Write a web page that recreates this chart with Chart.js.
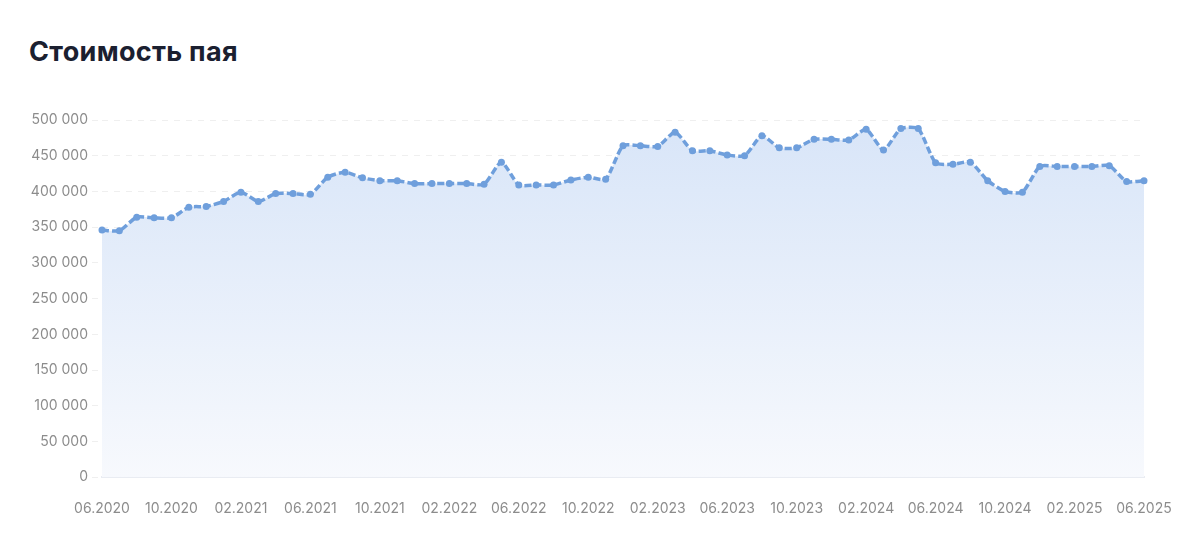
<!DOCTYPE html>
<html lang="ru">
<head>
<meta charset="utf-8">
<title>Стоимость пая</title>
<script src="https://cdn.jsdelivr.net/npm/chart.js@4.4.1/dist/chart.umd.min.js"></script>
<style>
    html, body {
        margin: 0;
        padding: 0;
        background: #ffffff;
        width: 1200px;
        height: 553px;
        overflow: hidden;
        font-family: Inter, "Open Sans", sans-serif;
    }
    h2 {
        position: absolute;
        left: 29px;
        top: 35px;
        margin: 0;
        font-size: 27px;
        font-weight: 700;
        color: #1b2030;
        letter-spacing: 0.3px;
    }
    .chart-box {
        position: absolute;
        left: 0;
        top: 96px;
        width: 1200px;
        height: 436px;
    }
</style>
</head>
<body>
<h2>Стоимость пая</h2>
<div class="chart-box"><canvas id="navChart"></canvas></div>

<script>
// Months, 06.2020 .. 06.2025
var months = [
    '06.2020', '07.2020', '08.2020', '09.2020', '10.2020', '11.2020', '12.2020',
    '01.2021', '02.2021', '03.2021', '04.2021', '05.2021', '06.2021', '07.2021', '08.2021', '09.2021', '10.2021', '11.2021', '12.2021',
    '01.2022', '02.2022', '03.2022', '04.2022', '05.2022', '06.2022', '07.2022', '08.2022', '09.2022', '10.2022', '11.2022', '12.2022',
    '01.2023', '02.2023', '03.2023', '04.2023', '05.2023', '06.2023', '07.2023', '08.2023', '09.2023', '10.2023', '11.2023', '12.2023',
    '01.2024', '02.2024', '03.2024', '04.2024', '05.2024', '06.2024', '07.2024', '08.2024', '09.2024', '10.2024', '11.2024', '12.2024',
    '01.2025', '02.2025', '03.2025', '04.2025', '05.2025', '06.2025'
];

// Unit value
var unitValue = [
    346000, 345000, 364000, 363000, 363000, 378000, 379000,
    386000, 399000, 386000, 397000, 397000, 396000, 420000, 427000, 419000, 415000, 415000, 411000,
    411000, 411000, 411000, 410000, 441000, 409000, 409000, 409000, 416000, 420000, 417000, 464000,
    464000, 463000, 483000, 457000, 457000, 451000, 450000, 478000, 461000, 461000, 473000, 473000,
    472000, 487000, 458000, 488000, 488000, 440000, 438000, 441000, 415000, 400000, 399000, 435000,
    435000, 435000, 435000, 436000, 414000, 415000
];

var yTicks = [0, 50000, 100000, 150000, 200000, 250000, 300000, 350000, 400000, 450000, 500000];
var labelEvery = 4;

function formatNumber(v) {
    return String(v).replace(/\B(?=(\d{3})+(?!\d))/g, ' ');
}

function areaGradient(context) {
    var chart = context.chart;
    var area = chart.chartArea;
    if (!area) {
        return 'rgba(111, 159, 220, 0.2)';
    }
    var g = chart.ctx.createLinearGradient(0, area.top, 0, area.bottom);
    g.addColorStop(0, '#d8e5f8');
    g.addColorStop(1, '#f7f9fd');
    return g;
}

var ctx = document.getElementById('navChart').getContext('2d');

new Chart(ctx, {
    type: 'line',
    data: {
        labels: months,
        datasets: [{
            label: 'Стоимость пая',
            data: unitValue,
            borderColor: '#6f9fdc',
            borderWidth: 3.5,
            borderDash: [7, 3],
            backgroundColor: areaGradient,
            fill: 'origin',
            tension: 0.2,
            pointRadius: 3.5,
            pointBackgroundColor: '#6f9fdc',
            pointBorderColor: '#6f9fdc',
            pointBorderWidth: 0,
            pointHoverRadius: 4
        }]
    },
    options: {
        responsive: true,
        maintainAspectRatio: false,
        animation: false,
        layout: {
            padding: { left: 0, right: 56, top: 24, bottom: 0 }
        },
        plugins: {
            legend: { display: false },
            tooltip: { enabled: false }
        },
        scales: {
            x: {
                offset: false,
                grid: { display: false },
                // solid baseline at zero
                border: { display: true, color: '#e9ecf2', width: 2 },
                ticks: {
                    autoSkip: false,
                    maxRotation: 0,
                    padding: 15,
                    color: '#8c8c8c',
                    font: { family: 'Inter', size: 14 },
                    callback: function(value, index) {
                        return index % labelEvery === 0 ? months[index] : '';
                    }
                }
            },
            y: {
                min: 0,
                max: 500000,
                afterFit: function(scale) {
                    scale.width = 102;
                },
                afterBuildTicks: function(scale) {
                    scale.ticks = yTicks.map(function(v) { return { value: v }; });
                },
                border: { display: false, dash: [6, 6] },
                grid: {
                    color: function(c) {
                        return c.tick && c.tick.value === 0 ? 'rgba(0,0,0,0)' : '#efefef';
                    },
                    tickColor: '#efefef',
                    tickLength: 10,
                    tickBorderDash: [6, 6]
                },
                ticks: {
                    padding: 4,
                    color: '#8c8c8c',
                    font: { family: 'Inter', size: 14 },
                    callback: function(value) {
                        return formatNumber(value);
                    }
                }
            }
        }
    }
});
</script>
</body>
</html>
